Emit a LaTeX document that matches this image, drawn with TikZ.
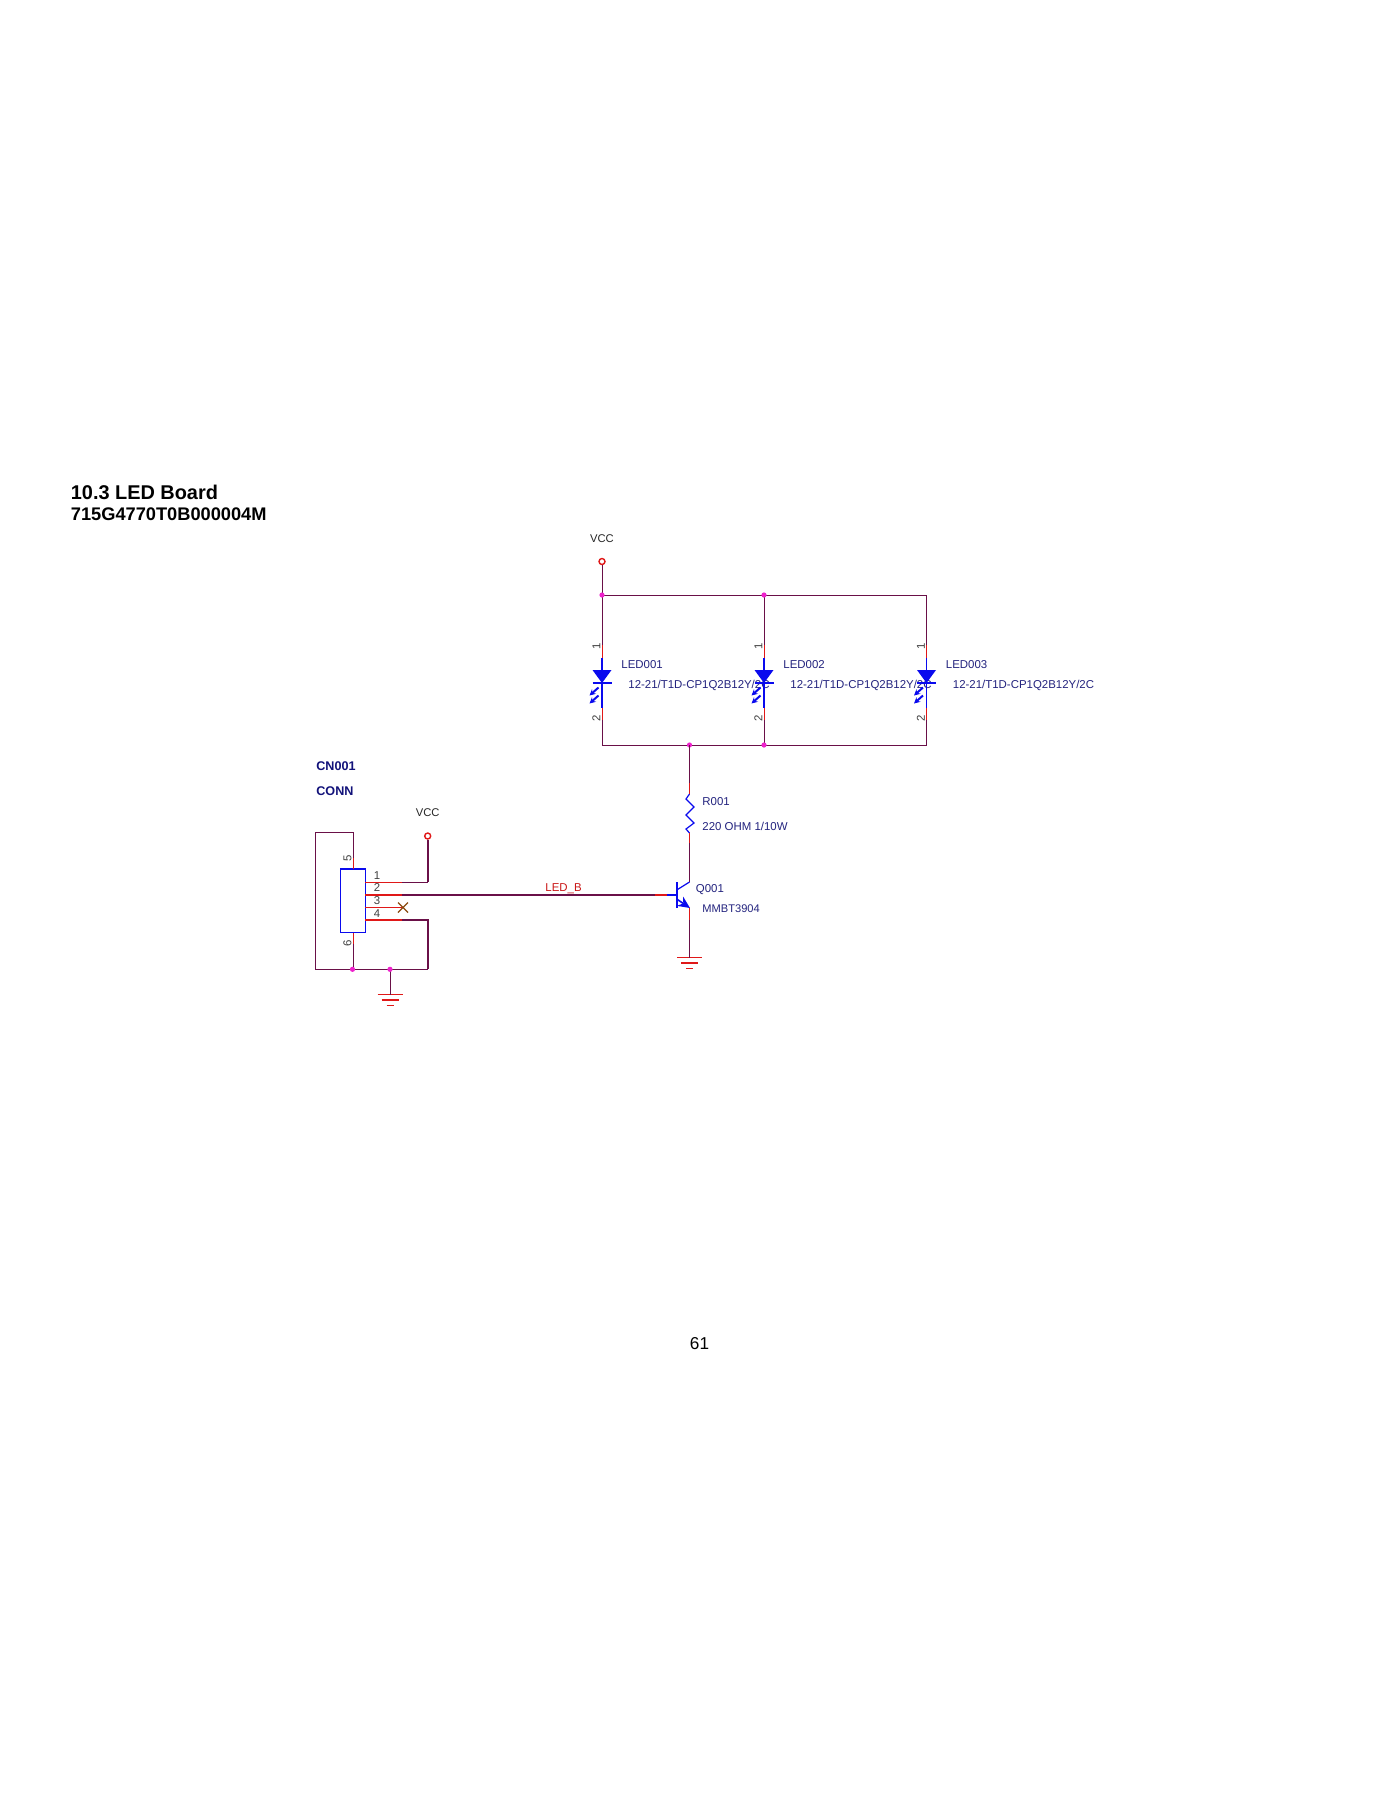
\documentclass[tikz,border=0pt]{standalone}
\usepackage{fontspec}
\setmainfont{Liberation Sans}
\usetikzlibrary{arrows.meta}
\definecolor{wirec}{HTML}{6A1048}
\definecolor{pinred}{HTML}{E01818}
\definecolor{partblue}{HTML}{0A0AEE}
\definecolor{textnavy}{HTML}{24247F}
\definecolor{titlenavy}{HTML}{12127A}
\definecolor{junct}{HTML}{EE22CC}
\definecolor{nccol}{HTML}{8A4A10}
\tikzset{
  x=0.5pt,y=-0.5pt,
  wire/.style={draw=wirec,line width=0.5pt},
  thickwire/.style={draw=wirec,line width=1pt},
  pinwire/.style={draw=pinred,line width=0.5pt},
  thickpin/.style={draw=pinred,line width=1pt},
  partline/.style={draw=partblue,line width=0.6pt},
  partthick/.style={draw=partblue,line width=1pt},
  gndbar/.style={draw=pinred,line width=0.5pt},
  lbl/.style={inner sep=0pt,anchor=base west,font=\fontsize{5.72pt}{7pt}\selectfont,text=textnavy},
  pinnum/.style={inner sep=0pt,font=\fontsize{5.7pt}{6pt}\selectfont,text=black!75},
  powerlbl/.style={inner sep=0pt,font=\fontsize{5.6pt}{7pt}\selectfont,text=black!85},
  boldlbl/.style={inner sep=0pt,anchor=base west,font=\fontsize{6.3pt}{7pt}\selectfont\bfseries,text=titlenavy},
  titlelbl/.style={inner sep=0pt,anchor=base west,text=black},
  jdot/.style={circle,fill=junct,draw=none,inner sep=0pt,minimum size=2.6pt},
  vcccirc/.style={circle,draw=pinred,fill=white,line width=0.7pt,inner sep=0pt,minimum size=3pt},
  ledtip/.style={-{Stealth[length=3pt,width=3pt]},draw=partblue,fill=partblue,line width=1pt},
}
\newcommand{\ledsym}[3]{% x, name, number
  \coordinate (#2a) at (#1,595);
  \coordinate (#2b) at (#1,745);
  \coordinate (#2p1) at (#1,645);
  \coordinate (#2p1i) at (#1,658);
  \coordinate (#2p2i) at (#1,708);
  \coordinate (#2p2) at (#1,720);
  \draw[wire] (#2a) -- (#2p1);
  \draw[pinwire] (#2p1) -- (#2p1i);
  \draw[partline] (#2p1i) -- (#2p2i);
  \draw[pinwire] (#2p2i) -- (#2p2);
  \draw[wire] (#2p2) -- (#2b);
  \fill[partblue] (#1-9.5,670) -- (#1+9.5,670) -- (#1,683) -- cycle;
  \draw[partthick] (#1-9.5,683) -- (#1+9.5,683);
  \coordinate (#2s1) at (#1-3.5,687.5);
  \coordinate (#2e1) at (#1-12.5,695.5);
  \coordinate (#2s2) at (#1-3.5,695.5);
  \coordinate (#2e2) at (#1-12.5,703.5);
  \draw[ledtip] (#2s1) -- (#2e1);
  \draw[ledtip] (#2s2) -- (#2e2);
  \node[pinnum,rotate=90] (#2n1) at (#1-5.5,646) {1};
  \node[pinnum,rotate=90] (#2n2) at (#1-5.5,718) {2};
  \node[lbl] (#2ref) at (#1+19,668) {LED00#3};
  \node[lbl] (#2val) at (#1+26,688) {12-21/T1D-CP1Q2B12Y/2C};
}
\newcommand{\gndsym}[3]{% x, y, name
  \coordinate (#3) at (#1,#2);
  \draw[gndbar] (#1-12.5,#2) -- (#1+12.5,#2);
  \draw[gndbar,line width=0.9pt] (#1-8.5,#2+5.5) -- (#1+8.5,#2+5.5);
  \draw[gndbar] (#1-3.5,#2+11) -- (#1+3.5,#2+11);
}
\begin{document}
\begin{tikzpicture}
\useasboundingbox[fill=white] (0,0) rectangle (1400,1812);
% titles
\node[titlelbl,font=\fontsize{9.95pt}{12pt}\selectfont\bfseries] (title) at (70.5,499) {10.3 LED Board};
\node[titlelbl,font=\fontsize{9.12pt}{11pt}\selectfont\bfseries] (subtitle) at (70.5,520) {715G4770T0B000004M};
\node[inner sep=0pt,font=\fontsize{8.6pt}{10pt}\selectfont,text=black] (page) at (699.5,1343.5) {61};
% LED branch
\ledsym{602}{la}{1}
\ledsym{764}{lb}{2}
\ledsym{926.5}{lc}{3}
\node[vcccirc] (vcca) at (602,561.5) {};
\node[powerlbl] (vccalbl) at (602,539) {VCC};
\draw[wire] (vcca) -- (laa);
\draw[wire] (laa) -- (lba) -- (lca);
\draw[wire] (lab) -- (lbb) -- (lcb);
\node[jdot] (j1) at (laa) {};
\node[jdot] (j2) at (lba) {};
\coordinate (rtop) at (689.5,745);
\node[jdot] (j3) at (rtop) {};
\node[jdot] (j4) at (lbb) {};
% Resistor
\coordinate (r1) at (689.5,783);
\coordinate (r2) at (689.5,794);
\coordinate (r3) at (689.5,833);
\coordinate (r4) at (689.5,843);
\coordinate (qc) at (689.5,882);
\draw[wire] (rtop) -- (r1);
\draw[pinwire] (r1) -- (r2);
\draw[partline] (r2) -- (686,799) -- (694,807) -- (686,815) -- (694,823) -- (686,829) -- (r3);
\draw[pinwire] (r3) -- (r4);
\draw[wire] (r4) -- (qc);
\node[lbl] (rref) at (702,805) {R001};
\node[lbl] (rval) at (702,830) {220 OHM 1/10W};
% Transistor
\coordinate (qbar) at (676.7,895);
\coordinate (qb) at (667,895);
\coordinate (qbr) at (655,895);
\coordinate (qe) at (690,908);
\coordinate (qe2) at (689.5,920);
\draw[partthick,line width=0.8pt] (676.7,882) -- (676.7,907.5);
\draw[partline] (qb) -- (qbar);
\draw[partline] (676.7,890) -- (qc);
\draw[partline,line width=0.8pt,-{Stealth[length=6pt,width=5.5pt]}] (676.7,899) -- (qe);
\draw[pinwire] (qe2) -- (689.5,908);
\gndsym{689.5}{957.5}{gq}
\draw[wire] (qe2) -- (gq);
\node[lbl] (qref) at (695.5,892) {Q001};
\node[lbl,font=\fontsize{5.55pt}{7pt}\selectfont] (qval) at (702,912) {MMBT3904};
% Connector
\node[draw=partblue,line width=0.7pt,fill=white,minimum width=12.3pt,minimum height=31.7pt,inner sep=0pt] (cn) at (353,901) {};
\draw[partthick] (cn.north west) -- (cn.north east);
\coordinate (p5) at (353.3,869);
\coordinate (p6) at (353.3,933);
\coordinate (p5o) at (353.3,832.3);
\coordinate (p6o) at (353.3,969.3);
\coordinate (ol) at (315.3,832.3);
\coordinate (olb) at (315.3,969.3);
\coordinate (gj) at (390,969.3);
\coordinate (cr) at (427.7,969.3);
\coordinate (p1a) at (365.3,882.3);
\coordinate (p1b) at (402,882.3);
\coordinate (p1c) at (427.7,882.3);
\coordinate (p2a) at (365.3,895);
\coordinate (p2b) at (402,895);
\coordinate (p3a) at (365.3,907.5);
\coordinate (p3b) at (403,907.5);
\coordinate (p4a) at (365.3,920);
\coordinate (p4b) at (402,920);
\coordinate (p4c) at (427.7,920);
\coordinate (p5r) at (353.3,858);
\coordinate (p6r) at (353.3,944);
\draw[wire] (p5o) -- (ol) -- (olb) -- (gj);
\draw[wire] (p5o) -- (p5r);
\draw[pinwire] (p5r) -- (p5);
\draw[pinwire] (p6) -- (p6r);
\draw[wire] (p6r) -- (p6o);
\draw[wire] (gj) -- (cr);
\draw[thickwire] (cr) -- (p4c) -- (p4b);
\draw[thickpin] (p4a) -- (p4b);
\draw[pinwire] (p1a) -- (p1b);
\draw[wire] (p1b) -- (p1c);
\node[vcccirc] (vccb) at (427.7,836) {};
\draw[thickwire] (vccb) -- (p1c);
\draw[thickpin] (p2a) -- (p2b);
\draw[thickwire] (p2b) -- (qbr);
\draw[thickpin] (qbr) -- (qb);
\draw[pinwire] (p3a) -- (p3b);
\draw[draw=nccol,line width=0.6pt] (398,902.5) -- (408,912.5) (398,912.5) -- (408,902.5);
\gndsym{390}{994.5}{gc}
\draw[wire] (gj) -- (gc);
\node[jdot] (j5) at (352.5,969.3) {};
\node[jdot] (j6) at (gj) {};
\node[powerlbl] (vccblbl) at (427.7,813) {VCC};
\node[pinnum] at (377,875.5) {1};
\node[pinnum] at (377,888) {2};
\node[pinnum] at (377,900.5) {3};
\node[pinnum] at (377,913.5) {4};
\node[pinnum,rotate=90] at (347.5,858) {5};
\node[pinnum,rotate=90] at (347.5,943) {6};
\node[lbl,text=pinred!90!black] (ledb) at (545,891) {LED\_B};
\node[boldlbl] (cnref) at (316,770) {CN001};
\node[boldlbl] (cnval) at (316,795) {CONN};
\end{tikzpicture}
\end{document}
